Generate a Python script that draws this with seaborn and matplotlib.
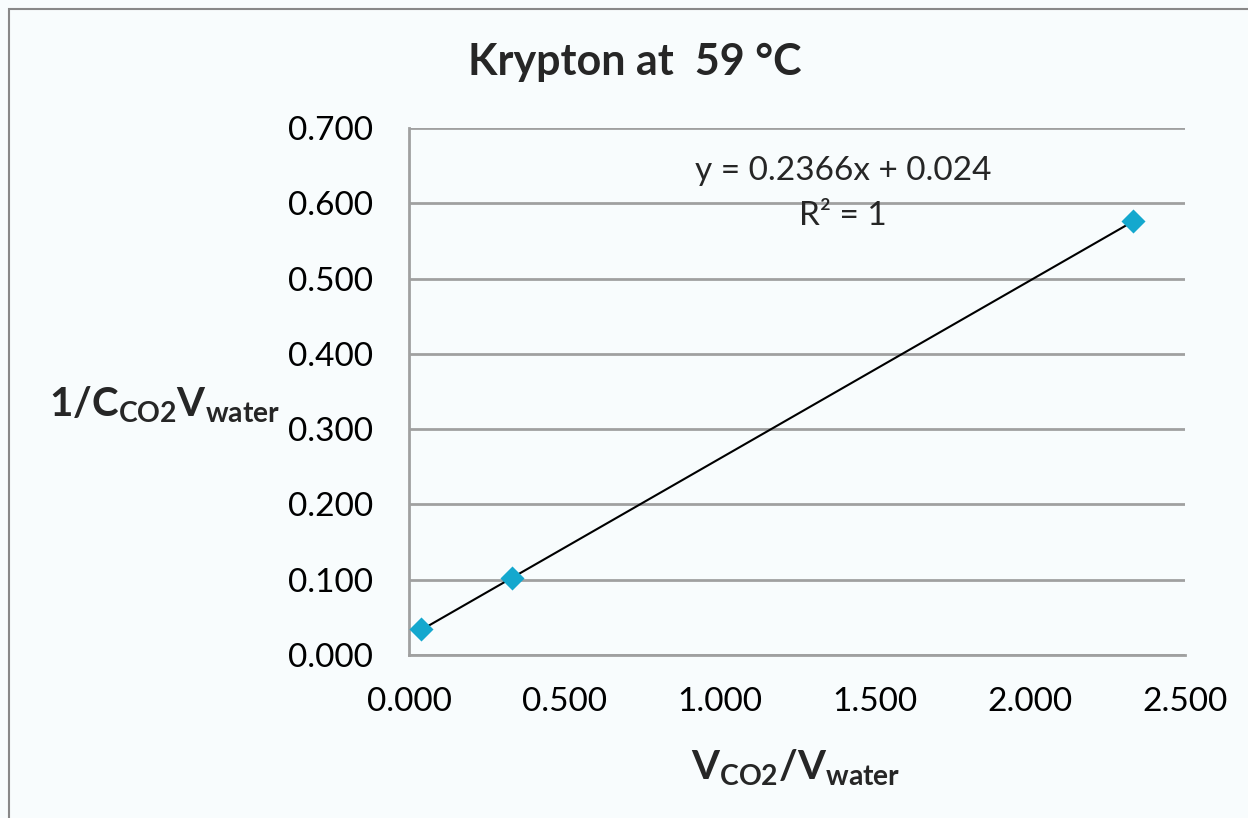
import numpy as np
import pandas as pd
import matplotlib
matplotlib.use("Agg")
import matplotlib.pyplot as plt
import matplotlib.patches as patches
from matplotlib.ticker import FormatStrFormatter
import seaborn as sns

# Measured points: gas volume ratio vs reciprocal of concentration-volume product
v_ratio = [0.040, 0.333, 2.333]
inv_cv = [0.035, 0.102, 0.577]

# Linear trendline coefficients
slope = 0.2366
intercept = 0.024
r_squared = 1

x_ticks = [0.0, 0.5, 1.0, 1.5, 2.0, 2.5]
y_ticks = [0.0, 0.1, 0.2, 0.3, 0.4, 0.5, 0.6, 0.7]

title = "Krypton at  59 °C"

bg = "#F8FCFD"
grid_col = "#A0A0A0"
marker_col = "#14A8CE"

sns.set_theme(style="white")
plt.rcParams["font.family"] = ["Lato", "DejaVu Sans"]
plt.rcParams["mathtext.fontset"] = "custom"
plt.rcParams["mathtext.rm"] = "Lato"
plt.rcParams["mathtext.bf"] = "Lato:bold"

fig = plt.figure(figsize=(12.48, 8.18), dpi=100, facecolor=bg)
ax = fig.add_axes([409 / 1248, 1 - 655 / 818, 776 / 1248, 527 / 818])
ax.set_facecolor(bg)

df = pd.DataFrame({"x": v_ratio, "y": inv_cv})

# Trendline across the data range
xt = np.array([min(v_ratio), max(v_ratio)])
trend = pd.DataFrame({"x": xt, "y": slope * xt + intercept})
sns.lineplot(data=trend, x="x", y="y", ax=ax, color="black", linewidth=1.5, zorder=3)

sns.scatterplot(data=df, x="x", y="y", ax=ax, marker="D", s=150,
                color=marker_col, edgecolor=marker_col, linewidth=0, zorder=4)

ax.set_xlim(0, 2.5)
ax.set_ylim(0, 0.7)
ax.set_xticks(x_ticks)
ax.set_yticks(y_ticks)
ax.xaxis.set_major_formatter(FormatStrFormatter("%.3f"))
ax.yaxis.set_major_formatter(FormatStrFormatter("%.3f"))

ax.yaxis.grid(True, color=grid_col, linewidth=2)
ax.xaxis.grid(False)
ax.set_axisbelow(True)

for side in ["top", "right"]:
    ax.spines[side].set_visible(False)
for side in ["left", "bottom"]:
    ax.spines[side].set_color(grid_col)
    ax.spines[side].set_linewidth(2)

ax.tick_params(axis="both", which="major", direction="out", length=8, width=2,
               color=grid_col, labelsize=24, labelcolor="black")
ax.tick_params(axis="x", pad=15)
ax.tick_params(axis="y", pad=18)

ax.set_xlabel("")
ax.set_ylabel("")

fig.text(635 / 1248, 1 - 62 / 818, title, ha="center", va="center",
         fontsize=31, fontweight="bold")
fig.text(796 / 1248, 1 - 768 / 818, r"$\mathbf{V_{CO2}/V_{water}}$",
         ha="center", va="center", fontsize=29)
fig.text(49 / 1248, 1 - 405 / 818, r"$\mathbf{1/C_{CO2}V_{water}}$",
         ha="left", va="center", fontsize=29)

ax.text(843 / 1248, 1 - 171 / 818, f"y = {slope}x + {intercept}",
        transform=fig.transFigure, ha="center", va="center", fontsize=24)
ax.text(843 / 1248, 1 - 216 / 818, f"R² = {r_squared}",
        transform=fig.transFigure, ha="center", va="center", fontsize=24)

# Chart frame
frame = patches.Rectangle((9 / 1248, -0.05), 1.1, 1 - 9 / 818 + 0.05,
                          transform=fig.transFigure, fill=False,
                          edgecolor="#888888", linewidth=1.5, clip_on=False)
fig.patches.append(frame)

fig.savefig("out.png", dpi=100, facecolor=bg)
